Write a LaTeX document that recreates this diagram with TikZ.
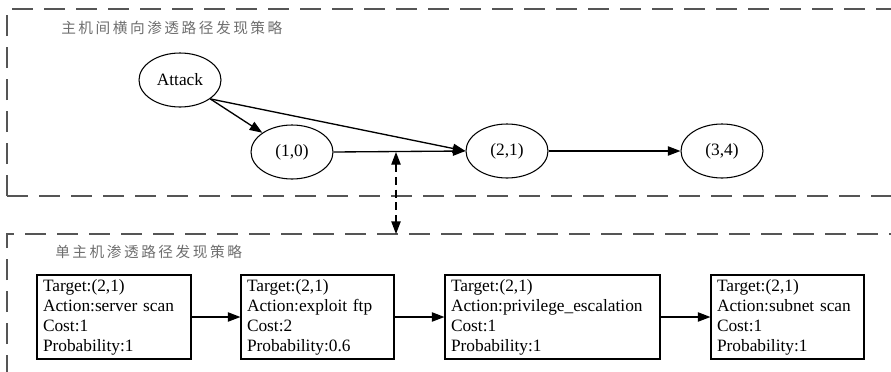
\documentclass[tikz,border=0pt]{standalone}
\usepackage{fontspec}
\setmainfont{Liberation Serif}
\newfontfamily\cjk{Noto Sans CJK SC}
\usetikzlibrary{shapes.geometric,arrows.meta}

\definecolor{framegray}{RGB}{85,85,85}
\definecolor{titlegray}{RGB}{110,110,110}

% one CJK glyph per fixed-width cell, for the spaced-out titles
\newcommand{\cjkcell}[1]{\makebox[12.9pt][l]{#1}}

\tikzset{
  frame/.style={draw=framegray, line width=1.1pt, dash pattern=on 15.75pt off 8.25pt},
  title/.style={anchor=west, inner sep=0pt, text=titlegray, font=\cjk\fontsize{11pt}{13pt}\selectfont},
  hostnode/.style={draw, ellipse, line width=0.8pt, minimum width=61.5pt, minimum height=40.5pt,
                   inner sep=0pt, font=\fontsize{13pt}{15pt}\selectfont},
  stepbox/.style={draw, rectangle, line width=0.8pt, minimum height=63pt, inner xsep=4.5pt,
                  inner ysep=0pt, align=left, font=\fontsize{13pt}{15pt}\selectfont},
  tip/.style={Triangle[length=9.5pt, width=7pt]},
  link/.style={draw, line width=1pt, -{Triangle[length=9.5pt, width=7pt]}},
}

\begin{document}
\begin{tikzpicture}[x=0.75pt, y=-0.75pt]
  \useasboundingbox (0,0) rectangle (891,371);
  \clip (0,0) rectangle (891,371);

  % the two strategy frames
  \draw[frame] (7,196) -- (7,9) -- (960,9) (7,196) -- (960,196);
  \draw[frame] (7,440) -- (7,234) -- (960,234);

  \node[title] (t1) at (61,28)
    {\cjkcell{主}\cjkcell{机}\cjkcell{间}\cjkcell{横}\cjkcell{向}\cjkcell{渗}\cjkcell{透}\cjkcell{路}\cjkcell{径}\cjkcell{发}\cjkcell{现}\cjkcell{策}\cjkcell{略}};
  \node[title] (t2) at (55,252)
    {\cjkcell{单}\cjkcell{主}\cjkcell{机}\cjkcell{渗}\cjkcell{透}\cjkcell{路}\cjkcell{径}\cjkcell{发}\cjkcell{现}\cjkcell{策}\cjkcell{略}};

  % lateral movement between hosts
  \node[hostnode] (attack) at (180,80) {Attack};
  \node[hostnode] (n10) at (292,152) {(1,0)};
  \node[hostnode] (n21) at (507,151) {(2,1)};
  \node[hostnode] (n34) at (722,151) {(3,4)};

  \draw[link] (attack.-32) -- (n10);
  \draw[link] (attack.-32) -- (n21.west);
  \draw[link] (n10.east) -- (n21.west);
  \draw[link] (n21.east) -- (n34.west);

  % link between the two levels
  \coordinate (vtop) at (396,152);
  \coordinate (vbot) at (396,234);
  \draw[line width=1pt, dash pattern=on 6pt off 3.5pt, {Triangle[length=9.5pt, width=7pt]}-{Triangle[length=9.5pt, width=7pt]}] (vtop) -- (vbot);

  % single-host attack steps
  \node[stepbox, text width=106.5pt] (s1) at (114,317)
    {Target:(2,1)\\Action:server scan\\Cost:1\\Probability:1};
  \node[stepbox, text width=105.75pt] (s2) at (317.5,317)
    {Target:(2,1)\\Action:exploit ftp\\Cost:2\\Probability:0.6};
  \node[stepbox, text width=152.25pt] (s3) at (552.5,317)
    {Target:(2,1)\\Action:privilege\_escalation\\Cost:1\\Probability:1};
  \node[stepbox, text width=105.75pt] (s4) at (787.5,317)
    {Target:(2,1)\\Action:subnet scan\\Cost:1\\Probability:1};

  \draw[link] (s1.east) -- (s2.west);
  \draw[link] (s2.east) -- (s3.west);
  \draw[link] (s3.east) -- (s4.west);
\end{tikzpicture}
\end{document}
